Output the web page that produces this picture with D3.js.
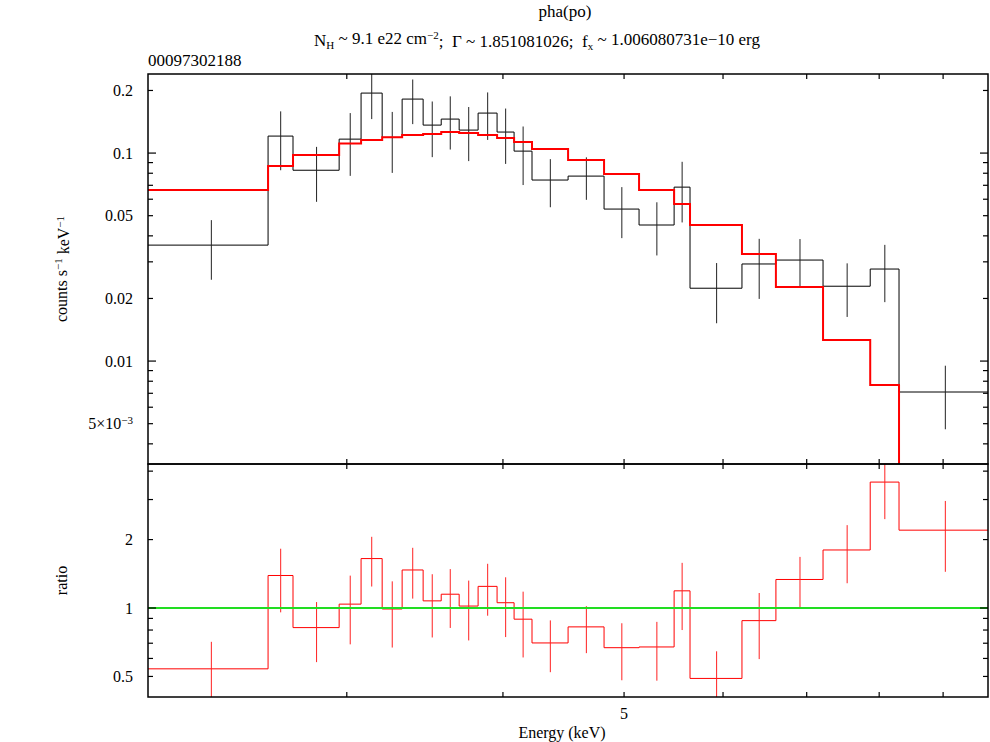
<!DOCTYPE html>
<html lang="en">
<head>
    <meta charset="UTF-8">
    <title>pha(po)</title>
    <style>
        body { margin: 0; background: #fff; }
        svg text { fill: #000; white-space: pre; }
        .frame { fill: none; stroke: #000; stroke-width: 1.5px; }
        .tick { stroke: #000; stroke-width: 1.2px; }
        .data { fill: none; stroke: #000; stroke-width: 1px; }
        .err { stroke: #222; stroke-width: 1px; }
        .model { fill: none; stroke: #ff0000; stroke-width: 2px; }
        .ratio { fill: none; stroke: #ff0000; stroke-width: 1px; }
        .rerr { stroke: #ff2020; stroke-width: 1px; }
        .unity { stroke: #22dd22; stroke-width: 2px; }
    </style>
</head>
<body>
<svg id="chart" width="990" height="742" font-family="Liberation Serif" font-size="16"></svg>
<script src="https://cdnjs.cloudflare.com/ajax/libs/d3/7.8.5/d3.min.js"></script>
<script>

    // bin edges (keV)
    var edges = [2.08, 2.595, 2.717, 2.958, 3.080, 3.202, 3.322, 3.453, 3.570, 3.690, 3.821, 3.957,
        4.083, 4.220, 4.510, 4.819, 5.140, 5.483, 5.646, 6.213, 6.614, 7.214, 7.869, 8.298, 9.776];

    // counts s-1 keV-1
    var counts = [0.0361, 0.1207, 0.0827, 0.1167, 0.1943, 0.119, 0.1818, 0.1363, 0.1457, 0.1290, 0.1557, 0.1262,
        0.1022, 0.0742, 0.0775, 0.0538, 0.0451, 0.0686, 0.0224, 0.0293, 0.0306, 0.0229, 0.0277, 0.0071];
    var countErr = [0.0115, 0.038, 0.0244, 0.039, 0.0486, 0.0387, 0.044, 0.0407, 0.0417, 0.0375, 0.040, 0.0375,
        0.032, 0.0193, 0.0179, 0.0148, 0.0129, 0.0222, 0.0072, 0.0094, 0.008, 0.0066, 0.0085, 0.0024];
    var model = [0.0664, 0.0866, 0.0978, 0.1112, 0.1155, 0.119, 0.1220, 0.1234, 0.1262, 0.1250, 0.1220, 0.1181,
        0.1130, 0.1045, 0.0926, 0.0793, 0.0664, 0.0569, 0.0451, 0.0327, 0.0227, 0.01262, 0.00767, 0.00315];

    // data / model
    var ratio = [0.54, 1.39, 0.82, 1.04, 1.65, 0.99, 1.47, 1.075, 1.15, 1.02, 1.245, 1.055,
        0.893, 0.702, 0.826, 0.669, 0.674, 1.19, 0.49, 0.88, 1.335, 1.80, 3.58, 2.20];
    var ratioErr = [0.17, 0.433, 0.242, 0.348, 0.407, 0.32, 0.37, 0.333, 0.333, 0.30, 0.32, 0.31,
        0.287, 0.18, 0.193, 0.188, 0.195, 0.39, 0.155, 0.284, 0.343, 0.515, 1.12, 0.757];

    // ticks
    var xTicks = [3, 4, 5, 6, 7, 8, 9];
    var xLabels = [5];
    var yTopMajor = [0.01, 0.1];
    var yTopMinor = [0.004, 0.005, 0.006, 0.007, 0.008, 0.009, 0.02, 0.03, 0.04, 0.05, 0.06, 0.07, 0.08, 0.09, 0.2];
    var yTopLabels = [0.2, 0.1, 0.05, 0.02, 0.01, 0.005];
    var yRatMajor = [1];
    var yRatMinor = [0.5, 0.6, 0.7, 0.8, 0.9, 2, 3, 4];
    var yRatLabels = [0.5, 1, 2];

    var svg = d3.select("#chart");
    var pLeft = 148, pRight = 988, pTop = 74, pMid = 464, pBottom = 697;

    var x = d3.scaleLog().domain([2.08, 9.776]).range([pLeft, pRight]);
    var yTop = d3.scaleLog().domain([0.0032, 0.24]).range([pMid, pTop]);
    var yRat = d3.scaleLog().domain([0.406, 4.3]).range([pBottom, pMid]);

    var defs = svg.append("defs");
    defs.append("clipPath").attr("id", "clipTop").append("rect")
        .attr("x", pLeft).attr("y", pTop).attr("width", pRight - pLeft).attr("height", pMid - pTop);
    defs.append("clipPath").attr("id", "clipRat").append("rect")
        .attr("x", pLeft).attr("y", pMid).attr("width", pRight - pLeft).attr("height", pBottom - pMid);

    function stepPoints(vals) {
        var pts = vals.map(function (v, i) { return [edges[i], v]; });
        pts.push([edges[edges.length - 1], vals[vals.length - 1]]);
        return pts;
    }

    function drawPanel(clip, y, vals, errs, lineCls, errCls, modelVals) {
        var g = svg.append("g").attr("clip-path", "url(#" + clip + ")");
        var line = d3.line()
            .x(function (d) { return x(d[0]); })
            .y(function (d) { return y(d[1]); })
            .curve(d3.curveStepAfter);

        g.append("path").datum(stepPoints(vals)).attr("class", lineCls).attr("d", line);

        g.selectAll("line.e").data(vals).enter().append("line")
            .attr("class", errCls)
            .attr("x1", function (d, i) { return x((edges[i] + edges[i + 1]) / 2); })
            .attr("x2", function (d, i) { return x((edges[i] + edges[i + 1]) / 2); })
            .attr("y1", function (d, i) { return y(Math.max(d - errs[i], 1e-6)); })
            .attr("y2", function (d, i) { return y(d + errs[i]); });

        if (modelVals) {
            g.append("path").datum(stepPoints(modelVals)).attr("class", "model").attr("d", line);
        }
        return g;
    }

    drawPanel("clipTop", yTop, counts, countErr, "data", "err", model);
    var gr = drawPanel("clipRat", yRat, ratio, ratioErr, "ratio", "rerr", null);
    gr.append("line").attr("class", "unity")
        .attr("x1", pLeft).attr("x2", pRight)
        .attr("y1", yRat(1)).attr("y2", yRat(1));

    // frames
    svg.append("rect").attr("class", "frame")
        .attr("x", pLeft).attr("y", pTop).attr("width", pRight - pLeft).attr("height", pMid - pTop);
    svg.append("rect").attr("class", "frame")
        .attr("x", pLeft).attr("y", pMid).attr("width", pRight - pLeft).attr("height", pBottom - pMid);

    // x ticks on every horizontal edge
    [pTop, pMid, pBottom].forEach(function (yy) {
        svg.selectAll(null).data(xTicks).enter().append("line")
            .attr("class", "tick")
            .attr("x1", function (d) { return x(d); }).attr("x2", function (d) { return x(d); })
            .attr("y1", yy === pTop ? yy : yy - 5)
            .attr("y2", yy === pBottom ? yy : yy + 5);
    });

    function yTicks(y, major, minor) {
        var all = major.map(function (d) { return [d, 8]; })
            .concat(minor.map(function (d) { return [d, 5]; }));
        svg.selectAll(null).data(all).enter().append("line")
            .attr("class", "tick")
            .attr("x1", pLeft).attr("x2", function (d) { return pLeft + d[1]; })
            .attr("y1", function (d) { return y(d[0]); }).attr("y2", function (d) { return y(d[0]); });
        svg.selectAll(null).data(all).enter().append("line")
            .attr("class", "tick")
            .attr("x1", pRight).attr("x2", function (d) { return pRight - d[1]; })
            .attr("y1", function (d) { return y(d[0]); }).attr("y2", function (d) { return y(d[0]); });
    }
    yTicks(yTop, yTopMajor, yTopMinor);
    yTicks(yRat, yRatMajor, yRatMinor);

    // y tick labels
    function yLabel(y, v) {
        var t = svg.append("text")
            .attr("x", 133).attr("y", y(v)).attr("dy", "0.35em")
            .attr("text-anchor", "end");
        if (v === 0.005) {
            t.append("tspan").text("5×10");
            t.append("tspan").attr("dy", "-0.45em").attr("font-size", 11).text("−3");
        } else {
            t.text(String(v));
        }
    }
    yTopLabels.forEach(function (v) { yLabel(yTop, v); });
    yRatLabels.forEach(function (v) { yLabel(yRat, v); });

    // x tick labels
    xLabels.forEach(function (v) {
        svg.append("text").attr("x", x(v)).attr("y", 719).attr("text-anchor", "middle").text(String(v));
    });

    svg.append("text").attr("x", 562).attr("y", 738).attr("text-anchor", "middle").text("Energy (keV)");

    // axis titles
    var yl = svg.append("text")
        .attr("transform", "translate(67," + ((pTop + pMid) / 2) + ") rotate(-90)")
        .attr("text-anchor", "middle");
    yl.append("tspan").text("counts s");
    yl.append("tspan").attr("dy", "-0.45em").attr("font-size", 11).text("−1");
    yl.append("tspan").attr("dy", "0.45em").text(" keV");
    yl.append("tspan").attr("dy", "-0.45em").attr("font-size", 11).text("−1");

    svg.append("text")
        .attr("transform", "translate(67," + ((pMid + pBottom) / 2) + ") rotate(-90)")
        .attr("text-anchor", "middle").text("ratio");

    // titles
    svg.append("text").attr("x", 565).attr("y", 17).attr("font-size", 17)
        .attr("text-anchor", "middle").text("pha(po)");

    var t2 = svg.append("text").attr("x", 537).attr("y", 46).attr("font-size", 17)
        .attr("text-anchor", "middle");
    t2.append("tspan").text("N");
    t2.append("tspan").attr("dy", "0.3em").attr("font-size", 11).text("H");
    t2.append("tspan").attr("dy", "-0.3em").text(" ~ 9.1 e22 cm");
    t2.append("tspan").attr("dy", "-0.45em").attr("font-size", 11).text("−2");
    t2.append("tspan").attr("dy", "0.45em").text(";  Γ ~ 1.851081026;  f");
    t2.append("tspan").attr("dy", "0.3em").attr("font-size", 11).text("x");
    t2.append("tspan").attr("dy", "-0.3em").text(" ~ 1.006080731e−10 erg");

    svg.append("text").attr("x", 148).attr("y", 66).attr("font-size", 17).text("00097302188");

</script>
</body>
</html>
